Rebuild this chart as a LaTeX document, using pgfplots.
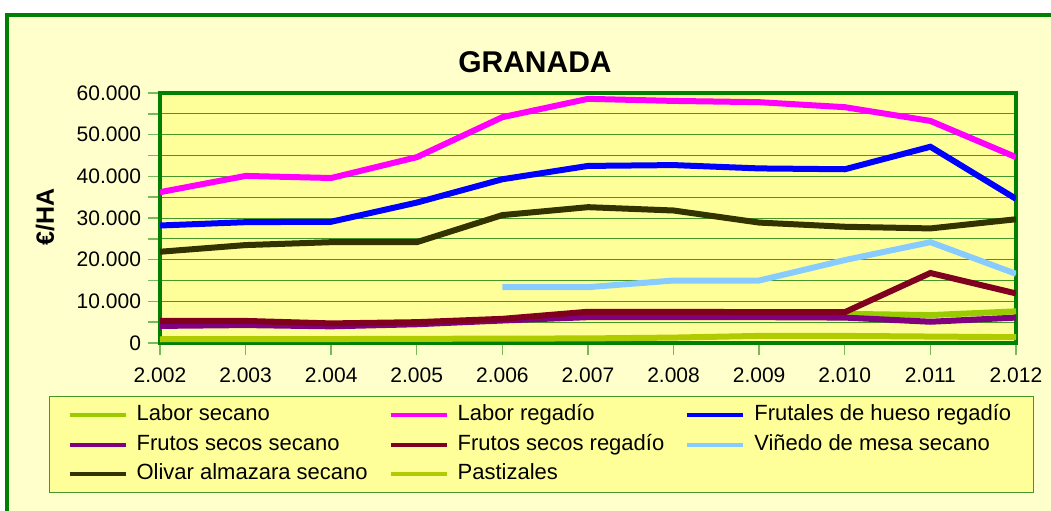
\documentclass[border=0pt]{standalone}
\usepackage{pgfplots}
\pgfplotsset{compat=1.18}
\usepackage{fontspec}
\setmainfont{Liberation Sans}

\definecolor{framec}{RGB}{0,128,0}
\definecolor{outerbg}{RGB}{255,255,204}
\definecolor{plotbg}{RGB}{255,255,153}
\definecolor{gridc}{RGB}{70,150,40}
\definecolor{tickc}{RGB}{120,185,90}
\definecolor{laborsec}{RGB}{153,204,0}
\definecolor{laborreg}{RGB}{255,0,255}
\definecolor{frutales}{RGB}{0,0,255}
\definecolor{frutsec}{RGB}{128,0,128}
\definecolor{frutreg}{RGB}{128,0,32}
\definecolor{vinedo}{RGB}{136,204,255}
\definecolor{olivar}{RGB}{51,51,0}
\definecolor{pastiz}{RGB}{176,204,0}

\begin{document}
\begin{tikzpicture}[x=0.5pt,y=0.5pt]
\fill[white] (0,0) rectangle (1051,510);
\fill[outerbg] (7,-20) rectangle (1080,495);
\draw[framec, line width=2pt] (7,-20) -- (7,495) -- (1080,495);
\node[font=\bfseries\fontsize{15}{18}\selectfont] at (535,448) {GRANADA};
\node[rotate=90, font=\bfseries\fontsize{12.5}{15}\selectfont] at (45,293) {€/HA};

\begin{axis}[
    at={(80pt,83.5pt)}, anchor=south west,
    scale only axis, width=428pt, height=125pt,
    axis background/.style={fill=plotbg},
    xmin=2002, xmax=2012, ymin=0, ymax=60000,
    xtick={2002,...,2012},
    xticklabels={2.002,2.003,2.004,2.005,2.006,2.007,2.008,2.009,2.010,2.011,2.012},
    ytick={0,10000,...,60000},
    minor ytick={5000,15000,...,55000},
    ymajorgrids, yminorgrids,
    major grid style={gridc, line width=0.5pt},
    minor grid style={gridc, line width=0.5pt},
    axis line style={framec, line width=2pt},
    tick style={tickc, line width=0.7pt},
    tick align=outside, tick pos=left,
    major tick length=6pt, minor tick length=6pt,
    scaled y ticks=false,
    ticklabel style={font=\fontsize{10.5}{12.6}\selectfont},
    xticklabel style={yshift=-3pt},
    yticklabel style={/pgf/number format/.cd, fixed, 1000 sep={.}, assume math mode=true},
    every axis plot/.append style={line width=3pt},
    legend columns=3,
    legend cell align=left,
    legend image code/.code={\draw[#1, line width=2pt] (0pt,0pt) -- (28pt,0pt);},
    legend style={at={(-0.1297,-0.212)}, anchor=north west,
        fill=plotbg, draw=gridc, line width=0.6pt,
        font=\fontsize{11}{13}\selectfont,
        nodes={text height=0.75em, text depth=0.22em},
        inner xsep=9pt, inner ysep=2.5pt, row sep=1pt,
        /tikz/every odd column/.append style={column sep=2.5pt},
        /tikz/every even column/.append style={column sep=8.5pt}},
]
\addplot[laborsec] coordinates {(2002,4500) (2003,4600) (2004,4400) (2005,4800) (2006,5500) (2007,6500) (2008,6600) (2009,6700) (2010,7000) (2011,6700) (2012,7600)};
\addlegendentry{Labor secano}
\addplot[laborreg] coordinates {(2002,36200) (2003,40100) (2004,39600) (2005,44600) (2006,54200) (2007,58600) (2008,58100) (2009,57800) (2010,56600) (2011,53300) (2012,44600)};
\addlegendentry{Labor regadío}
\addplot[frutales] coordinates {(2002,28200) (2003,29000) (2004,29100) (2005,33700) (2006,39300) (2007,42500) (2008,42700) (2009,41900) (2010,41700) (2011,47100) (2012,34600)};
\addlegendentry{Frutales de hueso regadío}
\addplot[frutsec] coordinates {(2002,4100) (2003,4300) (2004,4000) (2005,4500) (2006,5400) (2007,6200) (2008,6200) (2009,6200) (2010,6100) (2011,5100) (2012,6100)};
\addlegendentry{Frutos secos secano}
\addplot[frutreg] coordinates {(2002,5300) (2003,5300) (2004,4700) (2005,5000) (2006,5800) (2007,7500) (2008,7500) (2009,7400) (2010,7400) (2011,16800) (2012,11900)};
\addlegendentry{Frutos secos regadío}
\addplot[vinedo] coordinates {(2006,13400) (2007,13400) (2008,15000) (2009,15000) (2010,19900) (2011,24200) (2012,16600)};
\addlegendentry{Viñedo de mesa secano}
\addplot[olivar] coordinates {(2002,21900) (2003,23500) (2004,24200) (2005,24200) (2006,30700) (2007,32600) (2008,31800) (2009,28900) (2010,27900) (2011,27500) (2012,29700)};
\addlegendentry{Olivar almazara secano}
\addplot[pastiz] coordinates {(2002,900) (2003,950) (2004,950) (2005,1000) (2006,1050) (2007,1100) (2008,1300) (2009,1700) (2010,1700) (2011,1550) (2012,1400)};
\addlegendentry{Pastizales}
\end{axis}
\pgfresetboundingbox
\path (0,0) rectangle (1051,510);
\end{tikzpicture}
\end{document}
